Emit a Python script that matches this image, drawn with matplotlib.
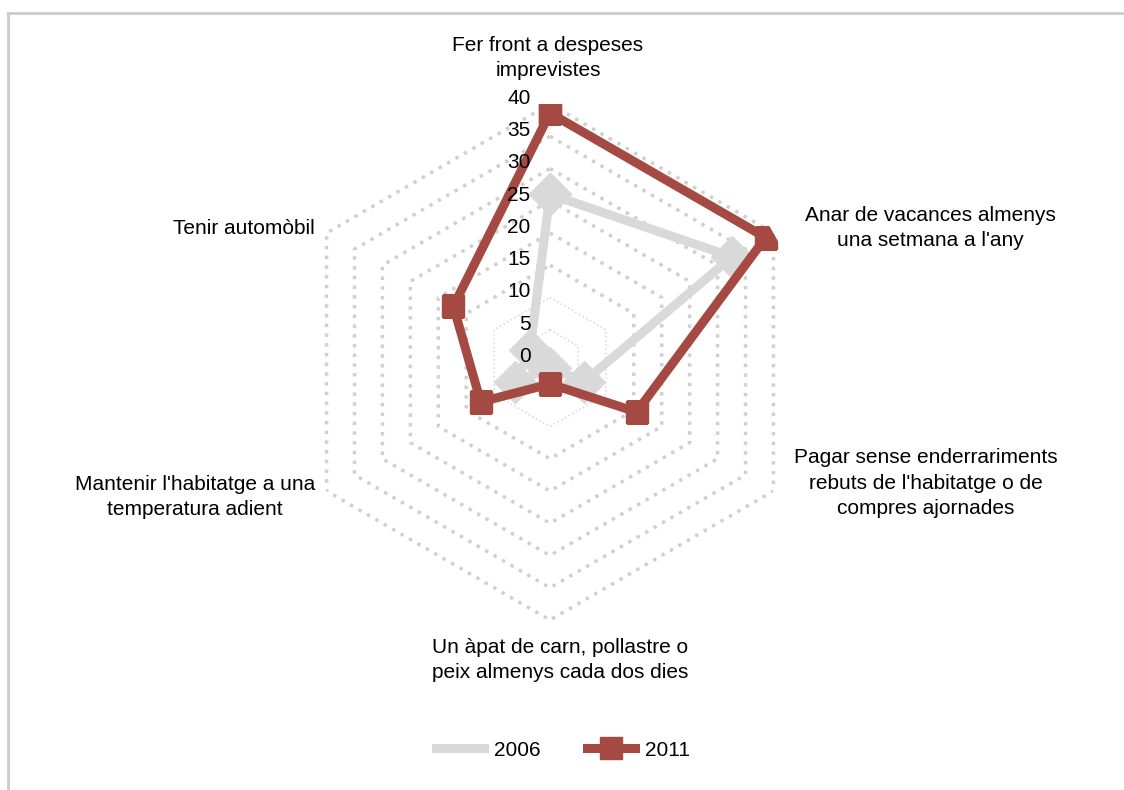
import numpy as np
import matplotlib
matplotlib.use('Agg')
import matplotlib.pyplot as plt
from matplotlib.lines import Line2D

plt.rcParams['font.family'] = ['Liberation Sans', 'DejaVu Sans']

categories = ["Fer front a despeses\nimprevistes",
              "Anar de vacances almenys\nuna setmana a l'any",
              "Pagar sense enderrariments\nrebuts de l'habitatge o de\ncompres ajornades",
              "Un àpat de carn, pollastre o\npeix almenys cada dos dies",
              "Mantenir l'habitatge a una\ntemperatura adient",
              "Tenir automòbil"]
values_2006 = [26.0, 32.6, 6.1, 0.9, 6.2, 3.6]
values_2011 = [38.6, 38.6, 15.5, 3.4, 12.4, 17.3]
ring_levels = [5, 10, 15, 20, 25, 30, 35, 40]
tick_labels = ['0', '5', '10', '15', '20', '25', '30', '35', '40']

gray = '#D9D9D9'
red = '#A54A42'
grid_col = '#D0D0D0'

fig = plt.figure(figsize=(11.24, 7.9), dpi=100)
ax = fig.add_axes([292 / 1124, 170 / 790, 516 / 1124, 516 / 790], projection='polar')
ax.set_theta_offset(np.pi / 2)
ax.set_theta_direction(-1)
ax.set_ylim(0, 40)
ax.grid(False)
ax.spines['polar'].set_visible(False)
ax.set_xticks([])
ax.set_yticks([])
ax.patch.set_alpha(0)

n = len(categories)
theta = np.arange(n) * 2 * np.pi / n
theta_c = np.append(theta, theta[0])

# hexagonal grid rings
for i, lv in enumerate(ring_levels):
    if i < 2:
        ax.plot(theta_c, [lv] * (n + 1), color=grid_col, lw=1.0, ls=(0, (1, 2)), zorder=1)
    else:
        ax.plot(theta_c, [lv] * (n + 1), color=grid_col, lw=2.5, ls=(0, (1, 1.8)), zorder=1)

ax.plot(theta_c, values_2006 + values_2006[:1], color=gray, lw=6.5, zorder=3,
        marker='D', markersize=21, markerfacecolor=gray, markeredgecolor=gray)
ax.plot(theta_c, values_2011 + values_2011[:1], color=red, lw=6.5, zorder=4,
        marker='s', markersize=16, markerfacecolor=red, markeredgecolor=red)

# radial tick labels along the top axis
for k, lab in enumerate(tick_labels):
    r = k * 5
    ax.annotate(lab, xy=(0, r), xytext=(-14, 4), textcoords='offset points',
                ha='right', va='center', fontsize=15, zorder=5)

# category labels
label_pos = [(548, 58), (930, 228), (926, 483), (560, 660), (195, 497), (244, 228)]
for lab, (px, py) in zip(categories, label_pos):
    fig.text(px / 1124, 1 - py / 790, lab, ha='center', va='center',
             fontsize=15, linespacing=1.45)

# legend
handles = [Line2D([], [], color=gray, lw=6.5),
           Line2D([], [], color=red, lw=6.5, marker='s', markersize=16)]
fig.legend(handles, ['2006', '2011'], loc='center', bbox_to_anchor=(563 / 1124, 1 - 750 / 790),
           ncol=2, frameon=False, fontsize=15, handlelength=2.3, columnspacing=2.2,
           handletextpad=0.5)

# light border
fig.add_artist(Line2D([8 / 1124, 8 / 1124], [0, 1 - 13 / 790], color='#CCCCCC', lw=2,
                      transform=fig.transFigure))
fig.add_artist(Line2D([8 / 1124, 1], [1 - 13 / 790, 1 - 13 / 790], color='#CCCCCC', lw=2,
                      transform=fig.transFigure))

fig.savefig('out.png', dpi=100)
